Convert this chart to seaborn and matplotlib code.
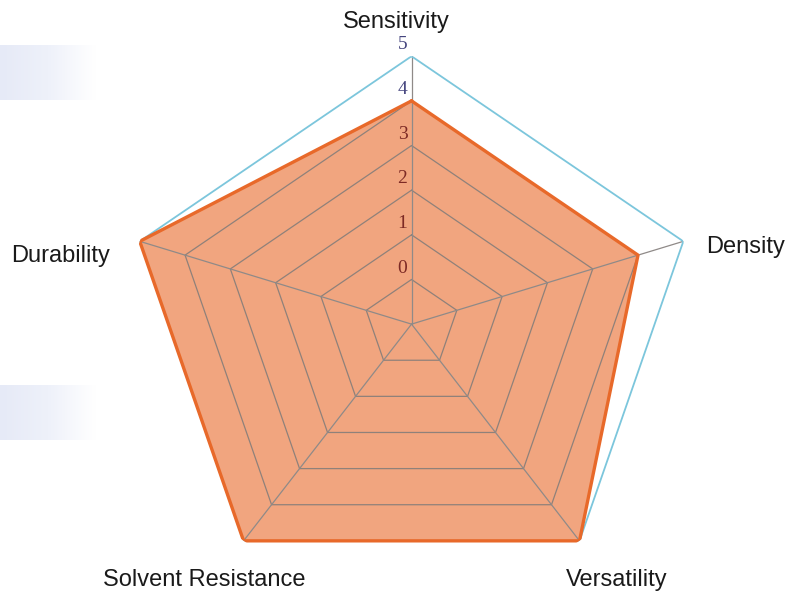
import numpy as np
import pandas as pd
import matplotlib
matplotlib.use("Agg")
import matplotlib.pyplot as plt
from matplotlib.colors import LinearSegmentedColormap
import seaborn as sns

# data
categories = ["Sensitivity", "Density", "Versatility", "Solvent Resistance", "Durability"]
scores = [4, 4, 5, 5, 5]
rings = [0, 1, 2, 3, 4]
outer_ring = 5
tick_labels = ["0", "1", "2", "3", "4", "5"]

sns.set_theme(style="white")
plt.rcParams["font.family"] = ["Liberation Sans", "DejaVu Sans"]

fig = plt.figure(figsize=(7.96, 5.92), dpi=100)

# faint gradient boxes at the left edge
grad = LinearSegmentedColormap.from_list("g", ["#e6eaf7", "#eef1fa", "#ffffff"])
for y0 in [0.831, 0.257]:
    bax = fig.add_axes([0.0, y0, 0.12, 0.093])
    bax.imshow(np.linspace(0, 1, 100).reshape(1, -1), cmap=grad, aspect="auto")
    bax.axis("off")

ax = fig.add_axes([0.158, 0.0, 0.718, 0.905], projection="polar")
ax.set_aspect("auto")
ax.set_theta_offset(np.pi / 2)
ax.set_theta_direction(-1)
ax.set_ylim(-1, 5)
ax.grid(False)
ax.spines["polar"].set_visible(False)
ax.set_xticks([])
ax.set_yticks([])
ax.patch.set_alpha(0)

n = len(categories)
theta = np.linspace(0, 2 * np.pi, n, endpoint=False)
theta_c = np.append(theta, theta[0] + 2 * np.pi)
vals_c = np.append(scores, scores[0])

df = pd.DataFrame({"theta": theta_c, "score": vals_c})
ax.fill(df["theta"], df["score"], color="#e8692a", alpha=0.6, zorder=2, lw=0)
sns.lineplot(data=df, x="theta", y="score", sort=False, ax=ax,
             color="#e8692a", lw=2.4, zorder=5)
ax.set_xlabel("")
ax.set_ylabel("")

# pentagon grid
for r in rings:
    ax.plot(theta_c, [r] * len(theta_c), color="#8f817a", lw=0.9, zorder=3)
ax.plot(theta_c, [outer_ring] * len(theta_c), color="#7cc6dc", lw=1.3, zorder=4)
for t in theta:
    ax.plot([t, t], [-1, outer_ring], color="#8f8a88", lw=0.9, zorder=3)

# radial tick labels
tick_colors = ["#7d2a25"] * 4 + ["#45457e"] * 2
for r, lab, c in zip(range(6), tick_labels, tick_colors):
    ax.annotate(lab, xy=(0, r), xytext=(-3, 2), textcoords="offset points",
                ha="right", va="bottom", fontsize=14, color=c,
                family="Liberation Serif", zorder=6)

# axis labels
label_pos = [(396, 22, "center"), (706, 247, "left"), (617, 580, "center"),
             (204, 580, "center"), (61, 256, "center")]
for lab, (px, py, ha) in zip(categories, label_pos):
    fig.text(px / 796, 1 - py / 592, lab, ha=ha, va="center",
             fontsize=17, color="#1a1a1a")

fig.savefig("out.png", dpi=100)
